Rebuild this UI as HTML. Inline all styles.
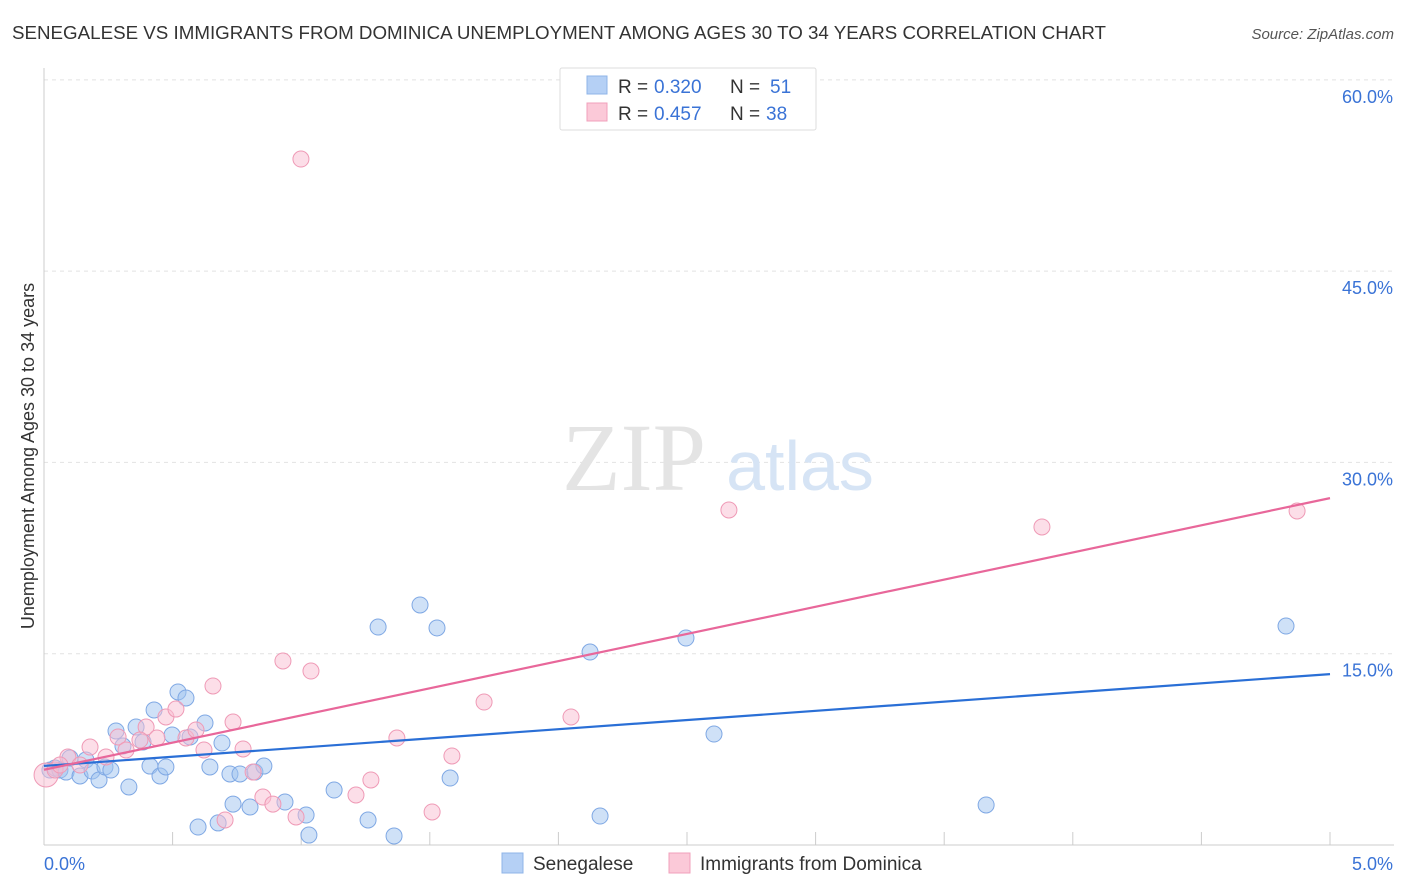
<!DOCTYPE html>
<html><head><meta charset="utf-8"><style>
body{margin:0;background:#fff;font-family:"Liberation Sans",sans-serif;}
svg{display:block}
</style></head><body>
<svg id="chart" width="1406" height="892">
<text x="12" y="39" font-size="18" fill="#333" textLength="1094" lengthAdjust="spacingAndGlyphs">SENEGALESE VS IMMIGRANTS FROM DOMINICA UNEMPLOYMENT AMONG AGES 30 TO 34 YEARS CORRELATION CHART</text>
<text x="1394" y="39" font-size="15" fill="#555" font-style="italic" text-anchor="end">Source: ZipAtlas.com</text>
<g id="grid"></g>
<text x="634" y="490" font-size="96" fill="#e4e4e4" font-family="Liberation Serif,serif" text-anchor="middle">ZIP</text>
<text x="800" y="490" font-size="70" fill="#d6e4f5" text-anchor="middle">atlas</text>
<text transform="translate(34,456) rotate(-90)" font-size="18" fill="#333" text-anchor="middle">Unemployment Among Ages 30 to 34 years</text>
<g id="marks"></g>
<g>
<rect x="560" y="68" width="256" height="62" fill="#fff" stroke="#ddd" rx="2"/>
<rect x="587" y="76" width="20" height="18" fill="#b5d0f5" stroke="#8fb4e8"/>
<text x="618" y="93" font-size="19" fill="#333">R =</text>
<text x="654" y="93" font-size="19" fill="#3a73d6">0.320</text>
<text x="730" y="93" font-size="19" fill="#333">N =</text>
<text x="770" y="93" font-size="19" fill="#3a73d6">51</text>
<rect x="587" y="103" width="20" height="18" fill="#fbc9d8" stroke="#f0a0bb"/>
<text x="618" y="120" font-size="19" fill="#333">R =</text>
<text x="654" y="120" font-size="19" fill="#3a73d6">0.457</text>
<text x="730" y="120" font-size="19" fill="#333">N =</text>
<text x="766" y="120" font-size="19" fill="#3a73d6">38</text>
</g>
<g>
<rect x="502" y="853" width="21" height="20" fill="#b5d0f5" stroke="#8fb4e8"/>
<text x="533" y="870" font-size="19" fill="#333">Senegalese</text>
<rect x="669" y="853" width="21" height="20" fill="#fbc9d8" stroke="#f0a0bb"/>
<text x="700" y="870" font-size="19" fill="#333">Immigrants from Dominica</text>
</g>
</svg>
<script>
const yTicks=[15,30,45,60];
const yTickLabels=["15.0%","30.0%","45.0%","60.0%"];
const xTickLabels=["0.0%","5.0%"];
const blueX=[.023,.043,.062,.086,.14,.163,.187,.214,.237,.26,.28,.307,.33,.358,.385,.412,.428,.451,.474,.498,.521,.552,.568,.626,.645,.677,.692,.723,.735,.762,.801,.82,.855,.937,1.019,1.03,1.128,1.26,1.299,1.361,1.462,1.528,1.579,2.123,2.162,2.496,2.605,3.663,4.829,.599,.101];
const blueY=[5.88,6.04,5.88,5.72,5.41,6.67,5.8,5.1,6.12,5.88,8.94,7.76,4.55,9.25,8.08,6.19,10.59,5.41,6.12,8.63,12.0,11.53,8.47,9.57,6.12,1.73,8.0,5.57,3.21,5.57,2.98,5.72,6.19,3.37,2.35,.78,4.31,1.96,17.09,.71,18.82,17.02,5.25,15.13,2.27,16.23,8.7,3.14,17.17,1.41,6.82];
const pinkX=[.008,.043,.093,.179,.241,.288,.319,.397,.439,.474,.513,.552,.591,.622,.657,.704,.735,.774,.813,.851,.89,.929,.98,.999,1.038,1.213,1.271,1.372,1.509,1.586,1.711,2.049,2.663,3.88,4.872,.14,.373,.062];
const pinkY=[5.49,5.88,6.9,7.68,6.9,8.47,7.45,9.25,8.39,10.04,10.66,8.39,9.02,7.45,12.47,1.96,9.64,7.53,5.72,3.76,3.21,14.43,2.2,53.79,13.64,3.92,5.1,8.39,2.59,6.98,11.21,10.04,26.27,24.94,26.19,6.27,8.23,6.27];
const blueLine=[6.2,13.4];
const pinkLine=[5.9,27.2];
const NS="http://www.w3.org/2000/svg";
const X=v=>44+v*257.2, Y=v=>845-v*12.753;
function mk(tag,attrs,parent){const e=document.createElementNS(NS,tag);for(const k in attrs)e.setAttribute(k,attrs[k]);parent.appendChild(e);return e;}
const grid=document.getElementById('grid'),marks=document.getElementById('marks');
yTicks.forEach((t,i)=>{
 const l=mk('line',{x1:44,x2:1394,y1:Y(t),y2:Y(t),stroke:'#e2e2e2','stroke-dasharray':'4,4'},grid);
 
 
 const tx=mk('text',{x:1393,y:Y(t)+23,'font-size':18,fill:'#3a73d6','text-anchor':'end'},grid);
 tx.textContent=yTickLabels[i];
 
 
});
const ax=mk('line',{x1:44,x2:1394,y1:845,y2:845,stroke:'#ccc'},grid);


const ay=mk('line',{x1:44,x2:44,y1:68,y2:845,stroke:'#ccc'},grid);


for(let i=1;i<=10;i++){const t=mk('line',{x1:X(i*0.5),x2:X(i*0.5),y1:832,y2:845,stroke:'#ccc'},grid);
 
 }
[[0,44,'start'],[5,1393,'end']].forEach((d,i)=>{const t=mk('text',{x:d[1],y:870,'font-size':18,fill:'#3a73d6','text-anchor':d[2]},grid);t.textContent=xTickLabels[i];
 
 });
blueX.forEach((v,i)=>{const c=mk('circle',{cx:X(v),cy:Y(blueY[i]),r:8,fill:'rgba(160,195,240,0.5)',stroke:'#7fa8e4','stroke-width':1},marks);
 
 });
pinkX.forEach((v,i)=>{const c=mk('circle',{cx:X(v),cy:Y(pinkY[i]),r:i==0?12:8,fill:'rgba(250,190,210,0.5)',stroke:'#ef9ab6','stroke-width':1},marks);
 
 });
const bl=mk('line',{x1:X(0),x2:X(5),y1:Y(blueLine[0]),y2:Y(blueLine[1]),stroke:'#2a6fd6','stroke-width':2.2},marks);


const pl=mk('line',{x1:X(0),x2:X(5),y1:Y(pinkLine[0]),y2:Y(pinkLine[1]),stroke:'#e8679a','stroke-width':2.2},marks);


</script>
</body></html>
